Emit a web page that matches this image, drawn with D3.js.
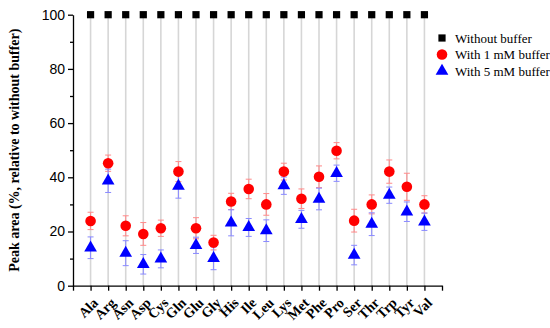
<!DOCTYPE html>
<html>
<head>
<meta charset="utf-8">
<script src="https://cdn.jsdelivr.net/npm/d3@7"></script>
<style>
  body { margin: 0; background: #fff; }
  svg { display: block; }
</style>
</head>
<body>
<div id="chart"></div>
<script>
// amino acids on the x axis
const aminoAcids = ["Ala", "Arg", "Asn", "Asp", "Cys", "Gln", "Glu", "Gly", "His", "Ile",
                    "Leu", "Lys", "Met", "Phe", "Pro", "Ser", "Thr", "Trp", "Tyr", "Val"];

// peak area, % relative to without buffer
const withoutBuffer = aminoAcids.map(() => 100);
const buffer1mM = [23.9, 45.2, 22.1, 19.1, 21.2, 42.1, 21.2, 15.9, 31.1, 35.7,
                   30.0, 42.1, 32.1, 40.2, 49.8, 24.0, 30.0, 42.1, 36.5, 30.0];
const err1mM = [3.2, 3.0, 3.7, 4.2, 3.0, 3.7, 3.9, 2.7, 3.0, 3.6,
                4.0, 3.1, 3.6, 4.0, 3.0, 4.2, 3.5, 4.3, 5.0, 3.2];
const buffer5mM = [14.0, 38.7, 12.0, 7.9, 9.9, 36.8, 14.9, 10.1, 23.2, 21.5,
                   20.3, 36.9, 24.5, 32.0, 41.5, 11.3, 22.7, 33.4, 27.3, 23.6];
const err5mM = [4.0, 4.3, 4.6, 3.6, 3.3, 4.5, 3.0, 4.2, 4.8, 3.3,
                4.0, 3.2, 3.3, 4.0, 3.0, 3.6, 4.2, 3.0, 3.6, 3.2];

const yTicks = [0, 20, 40, 60, 80, 100];
const legendLabels = ["Without buffer", "With 1 mM buffer", "With 5 mM buffer"];

const width = 550, height = 328;
const margin = { top: 14.7, right: 108, bottom: 42.3, left: 73 };

const svg = d3.select("#chart").append("svg")
    .attr("width", width)
    .attr("height", height);

// category index 1..20, with an empty slot at each end
const x = d3.scaleLinear()
    .domain([0, aminoAcids.length + 1])
    .range([margin.left, width - margin.right]);

const y = d3.scaleLinear()
    .domain([0, 100])
    .range([height - margin.bottom, margin.top]);

const serif = "'Liberation Serif', 'Times New Roman', serif";
const sans = "'Liberation Sans', Arial, sans-serif";

// drop lines from the 100 % points
svg.append("g")
    .selectAll("line")
    .data(aminoAcids)
    .join("line")
    .attr("x1", (d, i) => x(i + 1))
    .attr("x2", (d, i) => x(i + 1))
    .attr("y1", (d, i) => y(withoutBuffer[i]))
    .attr("y2", y(0))
    .attr("stroke", "#d6d6d6")
    .attr("stroke-width", 1.6);

// axes
const yAxis = svg.append("g")
    .attr("transform", `translate(${margin.left},0)`)
    .call(d3.axisLeft(y).tickValues(yTicks).tickSize(5).tickSizeOuter(0));
yAxis.selectAll("text").style("font-family", sans).style("font-size", "14px").attr("x", -8);

svg.append("g")
    .attr("transform", `translate(${margin.left},0)`)
    .call(d3.axisLeft(y).tickValues(d3.range(10, 100, 20)).tickSize(3).tickFormat("").tickSizeOuter(0))
    .select(".domain").remove();

const xAxis = svg.append("g")
    .attr("transform", `translate(0,${y(0)})`)
    .call(d3.axisBottom(x).tickValues(d3.range(0, aminoAcids.length + 2)).tickSize(5).tickSizeOuter(0)
        .tickFormat(i => aminoAcids[i - 1] || ""));
xAxis.selectAll("text")
    .style("font-family", serif)
    .style("font-size", "14px")
    .style("font-weight", "bold")
    .attr("text-anchor", "end")
    .attr("x", 0)
    .attr("y", 0)
    .attr("dy", 0)
    .attr("transform", "translate(8,18) rotate(-45)");

svg.selectAll(".domain, .tick line").attr("stroke", "#000").attr("stroke-width", 1.3);

// y axis title
svg.append("text")
    .attr("transform", `translate(19,${(y(0) + y(100)) / 2}) rotate(-90)`)
    .attr("text-anchor", "middle")
    .style("font-family", serif)
    .style("font-size", "14px")
    .style("font-weight", "bold")
    .text("Peak area (%, relative to without buffer)");

// error bars
function errorBars(values, errs, color) {
    const g = svg.append("g").attr("stroke", color).attr("stroke-width", 1);
    const cap = 3;
    values.forEach((v, i) => {
        const cx = x(i + 1);
        g.append("line").attr("x1", cx).attr("x2", cx).attr("y1", y(v - errs[i])).attr("y2", y(v + errs[i]));
        g.append("line").attr("x1", cx - cap).attr("x2", cx + cap).attr("y1", y(v - errs[i])).attr("y2", y(v - errs[i]));
        g.append("line").attr("x1", cx - cap).attr("x2", cx + cap).attr("y1", y(v + errs[i])).attr("y2", y(v + errs[i]));
    });
}
errorBars(buffer1mM, err1mM, "#ff8a8a");
errorBars(buffer5mM, err5mM, "#8a8aff");

// markers
const square = d3.symbol().type(d3.symbolSquare).size(52);
const circle = d3.symbol().type(d3.symbolCircle).size(88);
const triangle = d3.symbol().type(d3.symbolTriangle).size(70);

svg.append("g").selectAll("path")
    .data(withoutBuffer)
    .join("path")
    .attr("d", square)
    .attr("transform", (d, i) => `translate(${x(i + 1)},${y(d)})`)
    .attr("fill", "#000");

svg.append("g").selectAll("path")
    .data(buffer1mM)
    .join("path")
    .attr("d", circle)
    .attr("transform", (d, i) => `translate(${x(i + 1)},${y(d)})`)
    .attr("fill", "#ff0000");

svg.append("g").selectAll("path")
    .data(buffer5mM)
    .join("path")
    .attr("d", triangle)
    .attr("transform", (d, i) => `translate(${x(i + 1)},${y(d)})`)
    .attr("fill", "#0000ff");

// legend
const legendSymbols = [square, circle, triangle];
const legendColors = ["#000", "#ff0000", "#0000ff"];
const legend = svg.append("g").attr("transform", "translate(442,38)");
legendLabels.forEach((label, i) => {
    const row = legend.append("g").attr("transform", `translate(0,${i * 16.5})`);
    row.append("path")
        .attr("d", legendSymbols[i])
        .attr("fill", legendColors[i]);
    row.append("text")
        .attr("x", 13)
        .attr("y", 4.5)
        .style("font-family", serif)
        .style("font-size", "13px")
        .text(label);
});
</script>
</body>
</html>
